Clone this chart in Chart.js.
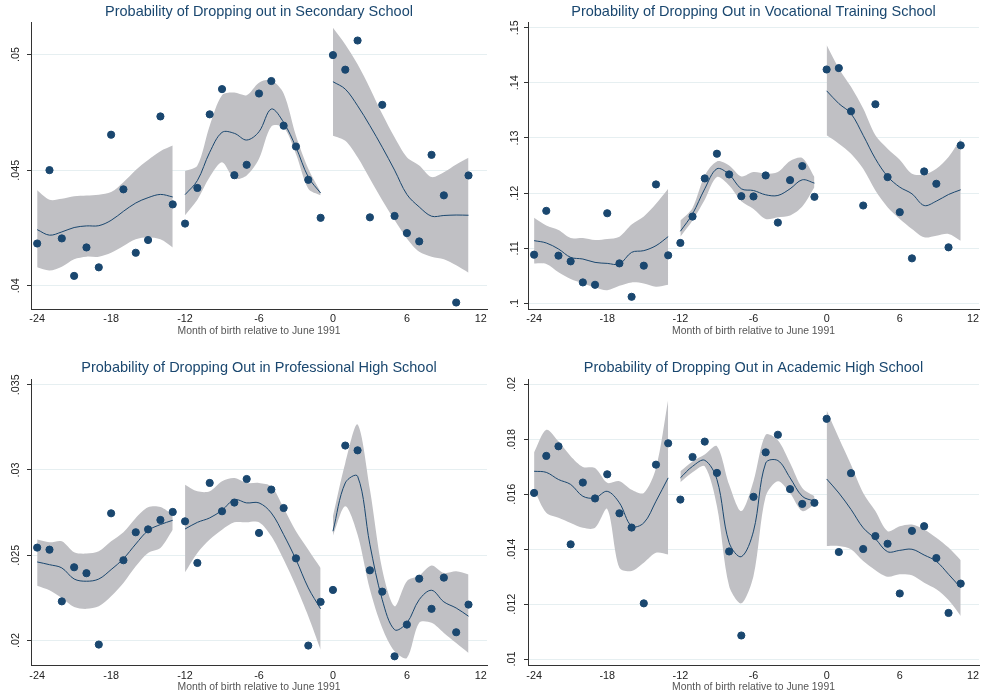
<!DOCTYPE html>
<html lang="en">
<head>
    <meta charset="UTF-8">
    <title>Dropping out by month of birth</title>
    <script src="https://cdn.jsdelivr.net/npm/chart.js"></script>
    <style>
        body { margin: 0; background: #fff; }
        .panel { position: absolute; }
    </style>
</head>
<body>
    <div class="panel" style="left:0;top:0;width:492px;height:342px"><canvas id="c1"></canvas></div>
    <div class="panel" style="left:492px;top:0;width:492px;height:342px"><canvas id="c2"></canvas></div>
    <div class="panel" style="left:0;top:350px;width:492px;height:346px"><canvas id="c3"></canvas></div>
    <div class="panel" style="left:492px;top:350px;width:492px;height:346px"><canvas id="c4"></canvas></div>

    <script>
        const months = [-24,-23,-22,-21,-20,-19,-18,-17,-16,-15,-14,-13,-12,-11,-10,-9,-8,-7,-6,-5,-4,-3,-2,-1,0,1,2,3,4,5,6,7,8,9,10,11];
        const xTicks = [-24, -18, -12, -6, 0, 6, 12];
        const xTitle = 'Month of birth relative to June 1991';

        // Secondary school
        const secTitle = 'Probability of Dropping out in Secondary School';
        const secPoints = [0.04183,0.0450,0.04205,0.04043,0.04166,0.0408,0.04653,0.04417,0.04143,0.04198,0.04732,0.04352,
                           0.04269,0.04423,0.04741,0.0485,0.04478,0.04523,0.04831,0.04885,0.04692,0.04602,0.04458,0.04294,
                           0.04997,0.04934,0.0506,0.04296,0.04782,0.04302,0.04228,0.04192,0.04566,0.04391,0.03928,0.04477];
        const secFit = [0.04243,0.04219,0.04233,0.04252,0.04259,0.0426,0.04283,0.04322,0.04358,0.04381,0.04395,0.04384,
                        0.04394,0.04455,0.04577,0.04663,0.04659,0.0463,0.04666,0.04764,0.04706,0.04599,0.0447,0.04401,
                        0.04882,0.0485,0.04778,0.04692,0.04599,0.045,0.04395,0.04341,0.04301,0.04304,0.04306,0.04305];
        const secHi = [0.04413,0.04372,0.04376,0.04387,0.0439,0.04394,0.04405,0.04448,0.04501,0.04544,0.04582,0.04606,
                       0.04496,0.0452,0.04692,0.04824,0.04835,0.04824,0.04878,0.04888,0.04831,0.04649,0.04506,0.04405,
                       0.05115,0.05043,0.04957,0.04854,0.04742,0.04642,0.04556,0.0452,0.0447,0.04491,0.04524,0.04553];
        const secLo = [0.0408,0.04066,0.04083,0.04115,0.04126,0.04126,0.04143,0.04172,0.04201,0.0421,0.04201,0.04166,
                       0.04305,0.04372,0.0447,0.04534,0.04463,0.04477,0.04549,0.04688,0.04685,0.0457,0.0442,0.04391,
                       0.04649,0.04627,0.04556,0.04463,0.0437,0.04284,0.04205,0.04147,0.04126,0.04115,0.04089,0.04057];
        const secTicks = [0.04, 0.045, 0.05];

        // Vocational training school
        const vocTitle = 'Probability of Dropping Out in Vocational Training School';
        const vocPoints = [0.10885,0.11679,0.10867,0.10764,0.10382,0.10339,0.11636,0.10727,0.10121,0.10685,0.12158,0.10873,
                           0.11097,0.11576,0.12267,0.12715,0.12339,0.11945,0.1194,0.12321,0.11467,0.12236,0.12491,0.11933,
                           0.14242,0.14267,0.13485,0.11776,0.13612,0.12291,0.11655,0.10818,0.12394,0.1217,0.11018,0.12867];
        const vocFit = [0.11139,0.11097,0.10988,0.10836,0.10806,0.10745,0.10727,0.10715,0.10927,0.10958,0.11048,0.11212,
                        0.11309,0.11624,0.12079,0.12442,0.12339,0.12079,0.12048,0.1197,0.11958,0.12079,0.12242,0.12182,
                        0.13855,0.13624,0.13442,0.13048,0.12624,0.12303,0.12109,0.11988,0.11776,0.11855,0.11976,0.12061];
        const vocHi = [0.11552,0.11412,0.11333,0.11188,0.11188,0.11152,0.1117,0.11212,0.1143,0.11576,0.11806,0.12079,
                       0.11503,0.11733,0.12321,0.12576,0.12503,0.12303,0.12382,0.12352,0.12382,0.12582,0.12636,0.12291,
                       0.14685,0.14261,0.13927,0.13533,0.13048,0.12806,0.12606,0.12352,0.1234,0.12442,0.12655,0.12988];
        const vocLo = [0.10727,0.10715,0.10564,0.10442,0.10364,0.10291,0.10242,0.10321,0.10382,0.10364,0.10303,0.10339,
                       0.11212,0.11503,0.11879,0.12291,0.12139,0.11855,0.11715,0.11533,0.11564,0.11594,0.11758,0.12109,
                       0.13048,0.12897,0.12715,0.12442,0.12048,0.11745,0.11533,0.11352,0.112,0.1123,0.11261,0.11139];
        const vocTicks = [0.10, 0.11, 0.12, 0.13, 0.14, 0.15];

        // Professional high school
        const proTitle = 'Probability of Dropping Out in Professional High School';
        const proPoints = [0.02545,0.02533,0.0223,0.0243,0.02395,0.01977,0.02746,0.02471,0.02635,0.02652,0.02707,0.02754,
                           0.02699,0.02455,0.02924,0.02758,0.02809,0.02947,0.02631,0.02885,0.02777,0.02482,0.01971,0.02227,
                           0.02297,0.03143,0.03115,0.02412,0.02287,0.01908,0.02094,0.02363,0.02186,0.02369,0.02049,0.02211];
        const proFit = [0.02461,0.02445,0.02426,0.02361,0.02348,0.02361,0.02416,0.0248,0.02566,0.02645,0.0268,0.02705,
                        0.02654,0.02693,0.02719,0.02764,0.02826,0.02807,0.02807,0.02748,0.02621,0.02475,0.02309,0.02186,
                        0.02641,0.02924,0.02963,0.02562,0.0224,0.02064,0.02104,0.0224,0.02295,0.02227,0.02191,0.02143];
        const proHi = [0.02592,0.02576,0.02582,0.02518,0.0251,0.02523,0.02582,0.02635,0.02719,0.02781,0.02783,0.02738,
                       0.02914,0.02875,0.02875,0.02934,0.02953,0.02924,0.02924,0.02904,0.02777,0.02641,0.02533,0.02426,
                       0.02729,0.03041,0.03266,0.02885,0.02416,0.02201,0.02348,0.02381,0.0244,0.02396,0.02406,0.02387];
        const proLo = [0.02322,0.02295,0.0225,0.02197,0.02186,0.02201,0.0226,0.02338,0.02436,0.02514,0.02543,0.0265,
                       0.024,0.02514,0.02592,0.0265,0.02693,0.02693,0.02693,0.02611,0.02475,0.02318,0.02143,0.01947,
                       0.02615,0.02787,0.02621,0.02299,0.02074,0.01937,0.01898,0.02104,0.02104,0.02045,0.01986,0.01928];
        const proTicks = [0.02, 0.025, 0.03, 0.035];

        // Academic high school
        const acaTitle = 'Probability of Dropping Out in Academic High School';
        const acaPoints = [0.01605,0.0174,0.01775,0.01418,0.01643,0.01585,0.01673,0.01531,0.01479,0.01203,0.01708,0.01786,
                           0.01581,0.01736,0.01792,0.01678,0.01392,0.01086,0.01591,0.01753,0.01817,0.01619,0.01565,0.01569,
                           0.01875,0.0139,0.01677,0.01401,0.01448,0.0142,0.01239,0.01467,0.01484,0.01368,0.01168,0.01275];
        const acaFit = [0.01684,0.0168,0.01654,0.01636,0.01593,0.01587,0.01611,0.01569,0.01484,0.01496,0.01575,0.0166,
                        0.0166,0.01702,0.01724,0.01654,0.01424,0.01373,0.01466,0.01714,0.01723,0.0166,0.01593,0.01575,
                        0.01656,0.01605,0.01545,0.01478,0.01438,0.01391,0.01396,0.014,0.01379,0.01356,0.01309,0.0126];
        const acaHi = [0.01753,0.01835,0.01793,0.01739,0.017,0.01696,0.01642,0.01648,0.01617,0.01605,0.01696,0.01944,
                       0.01684,0.0172,0.01745,0.01775,0.01636,0.01539,0.01648,0.01817,0.01797,0.01714,0.01623,0.01593,
                       0.01906,0.01805,0.01708,0.01605,0.01539,0.01466,0.01484,0.0149,0.01472,0.01442,0.01406,0.0136];
        const acaLo = [0.01617,0.01533,0.01515,0.01496,0.01478,0.01478,0.01547,0.01333,0.01321,0.01351,0.01387,0.01381,
                       0.01644,0.0168,0.01702,0.01557,0.01266,0.01203,0.01303,0.01593,0.01648,0.01605,0.01539,0.01563,
                       0.01412,0.01412,0.014,0.01357,0.01324,0.013,0.01309,0.01305,0.01278,0.01254,0.01215,0.01157];
        const acaTicks = [0.01, 0.012, 0.014, 0.016, 0.018, 0.02];

        const navy = '#1a476f';
        const band = 'rgb(192,192,196)';
        const font = 'Liberation Sans, Arial, sans-serif';
        const segments = [[-24, -13], [-12, -1], [0, 11]];

        function pick(values, lo, hi) {
            const out = [];
            months.forEach((m, i) => { if (m >= lo && m <= hi) out.push({ x: m, y: values[i] }); });
            return out;
        }

        function fmt(v) {
            // Stata style: .045 instead of 0.045
            return String(+v.toFixed(4)).replace(/^0\./, '.');
        }

        // box = sizes of the frame around the plot region for one panel
        function makeChart(id, title, pts, fit, hi, lo, yTicks, yMin, yMax, box) {
            const datasets = [{
                type: 'scatter',
                data: months.map((m, i) => ({ x: m, y: pts[i] })),
                backgroundColor: navy,
                borderColor: navy,
                pointRadius: 3.6,
                order: 0
            }];
            segments.forEach(([a, b]) => {
                datasets.push({
                    type: 'line', data: pick(fit, a, b), borderColor: navy, borderWidth: 1,
                    pointRadius: 0, tension: 0.35, fill: false, order: 1
                });
                datasets.push({
                    type: 'line', data: pick(hi, a, b), borderWidth: 0, borderColor: band,
                    backgroundColor: band, pointRadius: 0, tension: 0.3, fill: '+1', order: 2
                });
                datasets.push({
                    type: 'line', data: pick(lo, a, b), borderWidth: 0, borderColor: band,
                    pointRadius: 0, tension: 0.3, fill: false, order: 2
                });
            });

            new Chart(document.getElementById(id), {
                type: 'scatter',
                data: { datasets },
                options: {
                    responsive: true,
                    maintainAspectRatio: false,
                    animation: false,
                    layout: { padding: { top: 0, right: box.right, bottom: box.bottom, left: 0 } },
                    plugins: {
                        legend: { display: false },
                        tooltip: { enabled: false },
                        title: {
                            display: true, text: title, color: navy, fullSize: false,
                            font: { family: font, size: 14.5, weight: 'normal' },
                            padding: { top: box.titleTop, bottom: box.titleBottom }
                        }
                    },
                    scales: {
                        x: {
                            type: 'linear', min: -24.5, max: 12.5,
                            afterBuildTicks: axis => { axis.ticks = xTicks.map(v => ({ value: v })); },
                            afterFit: axis => { axis.height = box.xHeight; },
                            grid: { display: false, drawTicks: true, tickLength: 4, tickColor: '#333' },
                            border: { color: '#333', width: 1 },
                            ticks: {
                                color: '#222', padding: 0, maxRotation: 0, autoSkip: false,
                                font: { family: font, size: 10.8 }
                            },
                            title: {
                                display: true, text: xTitle, color: '#555', padding: 0,
                                font: { family: font, size: 10.4 }
                            }
                        },
                        y: {
                            min: yMin, max: yMax,
                            afterBuildTicks: axis => { axis.ticks = yTicks.map(v => ({ value: v })); },
                            afterFit: axis => { axis.width = box.yWidth; },
                            grid: { color: '#e6eff1', lineWidth: 1, tickColor: '#333', tickLength: 4 },
                            border: { color: '#333', width: 1 },
                            ticks: {
                                color: '#222', padding: box.yPad, minRotation: 90, maxRotation: 90,
                                crossAlign: 'center',
                                font: { family: font, size: 10.8 },
                                callback: v => fmt(v)
                            }
                        }
                    }
                }
            });
        }

        const topLeft = { right: 5, bottom: 5, titleTop: 3, titleBottom: 1.6, xHeight: 28, yWidth: 31, yPad: 0 };
        const topRight = { right: 1, bottom: 5, titleTop: 3.3, titleBottom: 2, xHeight: 28, yWidth: 36, yPad: 1.5 };
        const botLeft = { right: 5, bottom: 3, titleTop: 8.8, titleBottom: 2.8, xHeight: 27.3, yWidth: 31, yPad: 0 };
        const botRight = { right: 1, bottom: 3, titleTop: 8.8, titleBottom: 2.8, xHeight: 27.3, yWidth: 36, yPad: 1.5 };

        makeChart('c1', secTitle, secPoints, secFit, secHi, secLo, secTicks, 0.0390, 0.0514, topLeft);
        makeChart('c2', vocTitle, vocPoints, vocFit, vocHi, vocLo, vocTicks, 0.0990, 0.1509, topRight);
        makeChart('c3', proTitle, proPoints, proFit, proHi, proLo, proTicks, 0.01853, 0.03533, botLeft);
        makeChart('c4', acaTitle, acaPoints, acaFit, acaHi, acaLo, acaTicks, 0.00976, 0.0202, botRight);
    </script>
</body>
</html>
